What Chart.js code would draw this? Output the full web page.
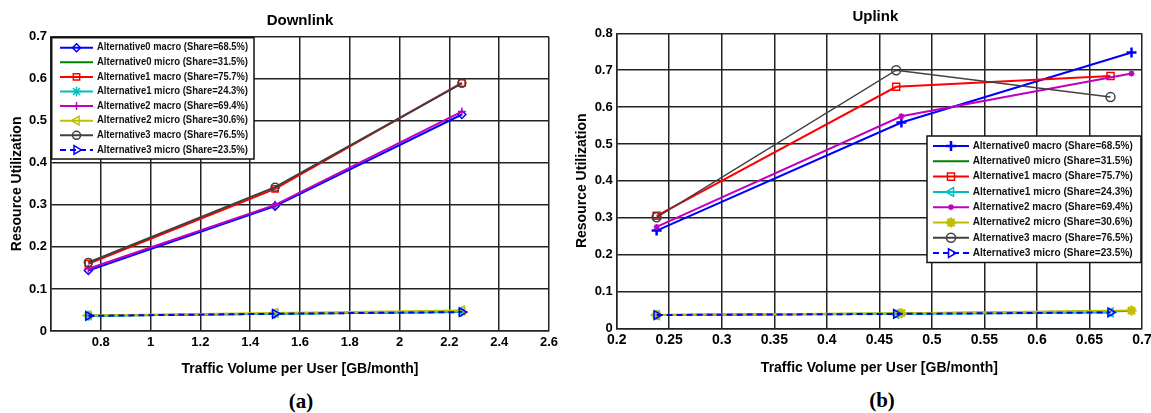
<!DOCTYPE html>
<html>
<head>
<meta charset="utf-8">
<script src="https://cdn.jsdelivr.net/npm/chart.js@4.4.0/dist/chart.umd.min.js"></script>
<style>
html,body{margin:0;padding:0;background:#fff;overflow:hidden;width:1151px;height:413px}
#wrap{position:relative;width:1151px;height:413px;overflow:hidden}
.pane{position:absolute;top:0}
.cap{position:absolute;font:bold 21px "Liberation Serif","DejaVu Serif",serif;color:#000;transform:translate(-50%,-50%);white-space:nowrap}
</style>
</head>
<body>
<div id="wrap">
  <canvas id="dlChart" class="pane" width="575" height="385" style="left:0"></canvas>
  <canvas id="ulChart" class="pane" width="590" height="385" style="left:575px"></canvas>
  <div class="cap" style="left:301px;top:401px">(a)</div>
  <div class="cap" style="left:882px;top:400px">(b)</div>
</div>
<script>
// legend texts + colours (same for both panels)
const seriesNames = [
  'Alternative0 macro (Share=68.5%)',
  'Alternative0 micro (Share=31.5%)',
  'Alternative1 macro (Share=75.7%)',
  'Alternative1 micro (Share=24.3%)',
  'Alternative2 macro (Share=69.4%)',
  'Alternative2 micro (Share=30.6%)',
  'Alternative3 macro (Share=76.5%)',
  'Alternative3 micro (Share=23.5%)'
];
const seriesColors = ['#0000ff','#008000','#ff0000','#00bfbf','#bf00bf','#bfbf00','#404040','#0000ff'];

// (a) Downlink
const dlX = [0.75, 1.5, 2.25];
const dlAlt0Macro = [0.144, 0.297, 0.515];
const dlAlt0Micro = [0.036, 0.041, 0.045];
const dlAlt1Macro = [0.160, 0.338, 0.590];
const dlAlt1Micro = [0.036, 0.041, 0.046];
const dlAlt2Macro = [0.148, 0.300, 0.522];
const dlAlt2Micro = [0.037, 0.043, 0.049];
const dlAlt3Macro = [0.163, 0.342, 0.589];
const dlAlt3Micro = [0.036, 0.041, 0.045];
const dlXTicks = [0.6, 0.8, 1, 1.2, 1.4, 1.6, 1.8, 2, 2.2, 2.4, 2.6];
const dlYTicks = [0, 0.1, 0.2, 0.3, 0.4, 0.5, 0.6, 0.7];

// (b) Uplink
const ulXAlt02 = [0.238, 0.471, 0.690];
const ulXAlt13 = [0.238, 0.466, 0.670];
const ulAlt0Macro = [0.265, 0.558, 0.748];
const ulAlt0Micro = [0.036, 0.040, 0.047];
const ulAlt1Macro = [0.305, 0.655, 0.684];
const ulAlt1Micro = [0.036, 0.039, 0.043];
const ulAlt2Macro = [0.275, 0.575, 0.691];
const ulAlt2Micro = [0.036, 0.041, 0.048];
const ulAlt3Macro = [0.301, 0.700, 0.627];
const ulAlt3Micro = [0.036, 0.039, 0.043];
const ulXTicks = [0.2, 0.25, 0.3, 0.35, 0.4, 0.45, 0.5, 0.55, 0.6, 0.65, 0.7];
const ulYTicks = [0, 0.1, 0.2, 0.3, 0.4, 0.5, 0.6, 0.7, 0.8];

const FONT = '"Liberation Sans", Arial, sans-serif';
const GRID = '#222';

const dlMarkers = [
  { style:'rectRot', r:4 }, { style:null }, { style:'rect', r:4.5 }, { style:'star', r:5 },
  { style:'cross', r:4 }, { style:'triangle', rot:-90, r:5 }, { style:'circle', r:4 }, { style:'triangle', rot:90, r:5 }
];
const ulMarkers = [
  { style:'cross', r:5, pw:2.5 }, { style:null }, { style:'rect', r:5 }, { style:'triangle', rot:-90, r:5 },
  { style:'star', r:3 }, { style:'star', r:5, pw:2.5 }, { style:'circle', r:4.5, lw:1.5 }, { style:'triangle', rot:90, r:5 }
];

function pts(xs, ys){ return xs.map((x, i) => ({ x, y: ys[i] })); }
function fmt(v){ return String(+Number(v).toFixed(2)); }

function makeDataset(i, xs, ys, mk){
  const c = seriesColors[i];
  return {
    label: seriesNames[i],
    data: pts(xs, ys),
    borderColor: c,
    backgroundColor: 'rgba(0,0,0,0)',
    borderWidth: mk.lw || 2,
    borderDash: i === 7 ? [6, 4] : [],
    pointStyle: mk.style || 'circle',
    pointRadius: mk.style ? mk.r : 0,
    pointRotation: mk.rot || 0,
    pointBorderWidth: mk.pw || 1.5,
    pointBorderColor: c,
    pointBackgroundColor: 'rgba(0,0,0,0)',
    tension: 0,
    fill: false,
    order: 8 - i,
    _marker: mk
  };
}

// boxed legend drawn inside the plot, like the MATLAB one
const boxLegend = {
  id: 'boxLegend',
  afterDatasetsDraw(chart, args, o){
    const ctx = chart.ctx;
    const sets = chart.data.datasets;
    ctx.save();
    ctx.fillStyle = '#fff';
    ctx.fillRect(o.left, o.top, o.right - o.left, o.bottom - o.top);
    ctx.strokeStyle = '#111';
    ctx.lineWidth = 1.5;
    ctx.strokeRect(o.left, o.top, o.right - o.left, o.bottom - o.top);
    sets.forEach((ds, i) => {
      const y = o.top + o.first + i * o.rowH;
      const x0 = o.left + o.lineFrom, x1 = o.left + o.lineTo;
      ctx.setLineDash(ds.borderDash || []);
      ctx.strokeStyle = ds.borderColor;
      ctx.lineWidth = Math.max(2, ds.borderWidth);
      ctx.beginPath(); ctx.moveTo(x0, y); ctx.lineTo(x1, y); ctx.stroke();
      ctx.setLineDash([]);
      const mk = ds._marker;
      if (mk && mk.style) {
        ctx.fillStyle = 'rgba(0,0,0,0)';
        ctx.strokeStyle = ds.borderColor;
        ctx.lineWidth = mk.pw || 1.5;
        Chart.helpers.drawPoint(ctx, { pointStyle: mk.style, rotation: mk.rot || 0, radius: mk.r, borderWidth: mk.pw || 1.5 }, (x0 + x1) / 2, y);
      }
      ctx.fillStyle = '#111';
      ctx.font = 'bold ' + o.fontSize + 'px ' + FONT;
      ctx.textAlign = 'left';
      ctx.textBaseline = 'middle';
      ctx.fillText(ds.label, o.left + o.textX, y, o.textW);
    });
    ctx.restore();
  },
  afterDraw(chart, args, o){
    const ctx = chart.ctx;
    const ca = chart.chartArea;
    ctx.save();
    ctx.fillStyle = '#000';
    ctx.font = 'bold 15px ' + FONT;
    ctx.textAlign = 'center';
    ctx.textBaseline = 'middle';
    ctx.fillText(o.title, (ca.left + ca.right) / 2 + (o.titleDx || 0), o.titleY);
    ctx.restore();
  }
};

function buildChart(id, datasets, cfg){
  return new Chart(document.getElementById(id).getContext('2d'), {
    type: 'line',
    data: { datasets },
    plugins: [boxLegend],
    options: {
      responsive: false,
      devicePixelRatio: 1,
      animation: false,
      events: [],
      layout: { padding: cfg.padding },
      plugins: { legend: { display: false }, tooltip: { enabled: false }, boxLegend: cfg.legend },
      scales: {
        x: {
          type: 'linear', min: cfg.xTicks[0], max: cfg.xTicks[cfg.xTicks.length - 1],
          afterBuildTicks: s => { s.ticks = cfg.xTicks.map(v => ({ value: v })); },
          afterFit: s => { s.height = cfg.xHeight; },
          grid: { color: GRID, lineWidth: 1.5, drawTicks: false },
          border: { display: true, color: GRID, width: 1.5 },
          ticks: { color: '#000', font: { family: FONT, size: cfg.xTickSize, weight: 'bold' }, padding: 3.5, autoSkip: false, maxRotation: 0,
                   callback: (v, i) => (cfg.hideFirstX && i === 0) ? '' : fmt(v) },
          title: { display: true, text: 'Traffic Volume per User [GB/month]', color: '#000',
                   font: { family: FONT, size: 14, weight: 'bold', lineHeight: 1 }, padding: { top: 0, bottom: cfg.xTitlePad } }
        },
        y: {
          type: 'linear', min: cfg.yTicks[0], max: cfg.yTicks[cfg.yTicks.length - 1],
          afterBuildTicks: s => { s.ticks = cfg.yTicks.map(v => ({ value: v })); },
          afterFit: s => { s.width = cfg.yWidth; },
          grid: { color: GRID, lineWidth: 1.5, drawTicks: false },
          border: { display: true, color: GRID, width: 1.5 },
          ticks: { color: '#000', font: { family: FONT, size: 13, weight: 'bold' }, padding: 4, callback: v => fmt(v) },
          title: { display: true, text: 'Resource Utilization', color: '#000',
                   font: { family: FONT, size: 14, weight: 'bold', lineHeight: 1 }, padding: { top: cfg.yTitlePad, bottom: 0 } }
        }
      }
    }
  });
}

const dlSeries = [dlAlt0Macro, dlAlt0Micro, dlAlt1Macro, dlAlt1Micro, dlAlt2Macro, dlAlt2Micro, dlAlt3Macro, dlAlt3Micro];
const ulSeries = [ulAlt0Macro, ulAlt0Micro, ulAlt1Macro, ulAlt1Micro, ulAlt2Macro, ulAlt2Micro, ulAlt3Macro, ulAlt3Micro];
const ulXs = [ulXAlt02, ulXAlt02, ulXAlt13, ulXAlt13, ulXAlt02, ulXAlt02, ulXAlt13, ulXAlt13];

buildChart('dlChart', dlSeries.map((ys, i) => makeDataset(i, dlX, ys, dlMarkers[i])), {
  padding: { top: 36.7, right: 26, left: 0, bottom: 0 },
  xTicks: dlXTicks, yTicks: dlYTicks, hideFirstX: true,
  xHeight: 54, yWidth: 51, xTickSize: 13, xTitlePad: 9, yTitlePad: 10,
  legend: { left: 51.7, top: 37.7, right: 254, bottom: 159, first: 10, rowH: 14.6,
            lineFrom: 8.3, lineTo: 41.3, textX: 45.3, textW: 151, fontSize: 10,
            title: 'Downlink', titleY: 20.5 }
});

buildChart('ulChart', ulSeries.map((ys, i) => makeDataset(i, ulXs[i], ys, ulMarkers[i])), {
  padding: { top: 33.3, right: 23, left: 0, bottom: 0 },
  xTicks: ulXTicks, yTicks: ulYTicks, hideFirstX: false,
  xHeight: 56.7, yWidth: 41.7, xTickSize: 14, xTitlePad: 10, yTitlePad: 0,
  legend: { left: 352, top: 136, right: 566, bottom: 262.5, first: 10, rowH: 15.3,
            lineFrom: 6, lineTo: 42, textX: 45.7, textW: 160, fontSize: 10.5,
            title: 'Uplink', titleY: 17, titleDx: -4 }
});
</script>
</body>
</html>
